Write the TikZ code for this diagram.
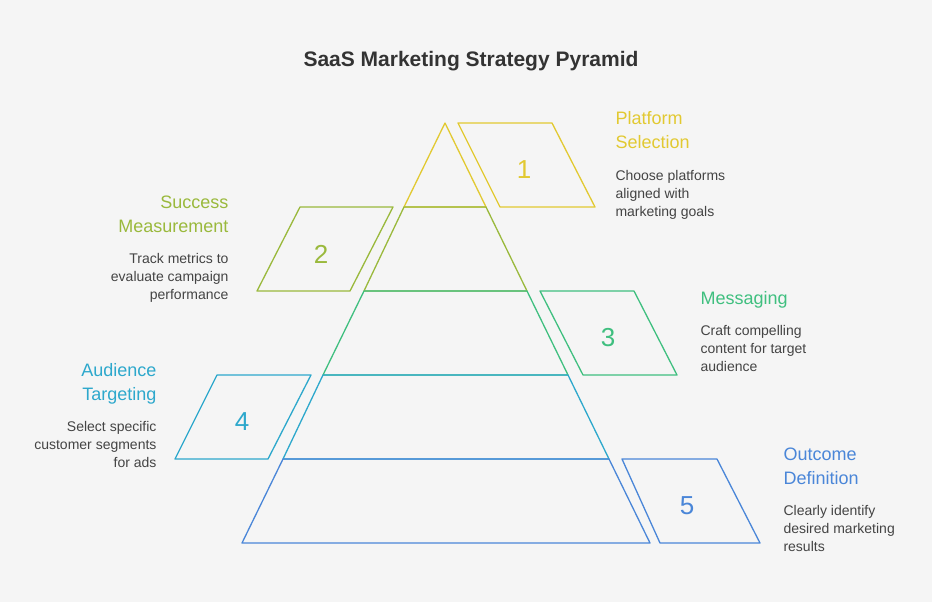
\documentclass[tikz,border=0pt]{standalone}
\usepackage{fontspec}
\setmainfont{Liberation Sans}
\definecolor{bg}{HTML}{F5F5F5}
\definecolor{cA}{HTML}{E2C931}
\definecolor{cB}{HTML}{9AB93C}
\definecolor{cC}{HTML}{3FBF7F}
\definecolor{cD}{HTML}{2DA8CC}
\definecolor{cE}{HTML}{4A86D8}
\definecolor{txt}{HTML}{444444}
\begin{document}
\begin{tikzpicture}[x=1pt,y=-1pt,
  ln/.style={line width=1.3pt,line join=round},
  num/.style={font=\fontsize{26}{26}\selectfont},
  ttl/.style={font=\fontsize{18}{24}\selectfont,align=left},
  dsc/.style={font=\fontsize{14}{18}\selectfont,text=txt,align=left}]
\fill[bg] (0,0) rectangle (932,602);
\node[font=\bfseries\fontsize{21}{24}\selectfont,text=black!80] (title) at (471,61) {SaaS Marketing Strategy Pyramid};
% pyramid levels
\draw[ln,cA] (445,123) -- (486,207) -- (404,207) -- cycle;
\draw[ln,cB] (404,207) -- (486,207) -- (527,291) -- (364,291) -- cycle;
\draw[ln,cC] (364,291) -- (527,291) -- (568,375) -- (323,375) -- cycle;
\draw[ln,cD] (323,375) -- (568,375) -- (609,459) -- (283,459) -- cycle;
\draw[ln,cE] (283,459) -- (609,459) -- (650,543) -- (242,543) -- cycle;
% parallelograms
\draw[ln,cA] (458,123) -- (552,123) -- (595,207) -- (500,207) -- cycle;
\node[num,text=cA] (n1) at (524,170) {1};
\draw[ln,cB] (300,207) -- (393,207) -- (350,291) -- (257,291) -- cycle;
\node[num,text=cB] (n2) at (321,254) {2};
\draw[ln,cC] (540,291) -- (634,291) -- (677,375) -- (583,375) -- cycle;
\node[num,text=cC] (n3) at (608,338) {3};
\draw[ln,cD] (217,375) -- (311,375) -- (268,459) -- (175,459) -- cycle;
\node[num,text=cD] (n4) at (242,422) {4};
\draw[ln,cE] (622,459) -- (717,459) -- (760,543) -- (660,543) -- cycle;
\node[num,text=cE] (n5) at (687,506) {5};
% labels
\node[ttl,text=cA,anchor=north west] (t1) at (612,108) {Platform\\Selection};
\node[dsc,anchor=north west] (d1) at (612,167) {Choose platforms\\aligned with\\marketing goals};
\node[ttl,text=cB,anchor=north east,align=right] (t2) at (232,192) {Success\\Measurement};
\node[dsc,anchor=north east,align=right] (d2) at (232,250) {Track metrics to\\evaluate campaign\\performance};
\node[ttl,text=cC,anchor=north west] (t3) at (697,288) {Messaging};
\node[dsc,anchor=north west] (d3) at (697,322) {Craft compelling\\content for target\\audience};
\node[ttl,text=cD,anchor=north east,align=right] (t4) at (160,360) {Audience\\Targeting};
\node[dsc,anchor=north east,align=right] (d4) at (160,418) {Select specific\\customer segments\\for ads};
\node[ttl,text=cE,anchor=north west] (t5) at (780,444) {Outcome\\Definition};
\node[dsc,anchor=north west] (d5) at (780,502) {Clearly identify\\desired marketing\\results};
\end{tikzpicture}
\end{document}
